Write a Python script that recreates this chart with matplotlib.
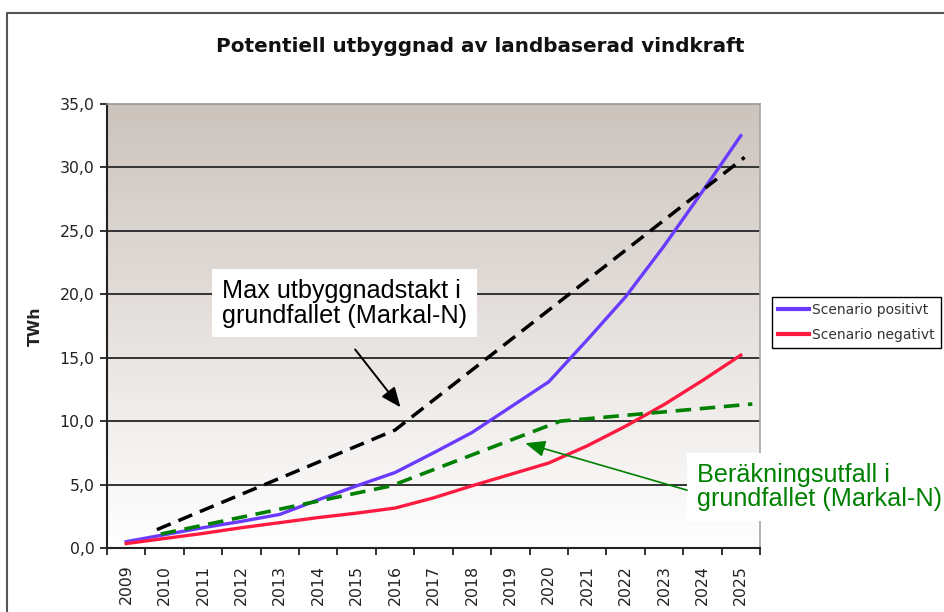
import matplotlib
matplotlib.use("Agg")
import matplotlib.pyplot as plt
from matplotlib.lines import Line2D
from matplotlib.ticker import FuncFormatter
import numpy as np

# ========================================================================
# data
years = [2009, 2010, 2011, 2012, 2013, 2014, 2015, 2016, 2017,
         2018, 2019, 2020, 2021, 2022, 2023, 2024, 2025]
positiv = [0.5, 1.05, 1.6, 2.1, 2.65, 3.8, 4.9, 5.95, 7.5,
           9.1, 11.1, 13.1, 16.4, 19.8, 23.8, 28.1, 32.5]
negativ = [0.35, 0.75, 1.15, 1.6, 2.0, 2.4, 2.75, 3.15, 3.95,
           4.9, 5.8, 6.7, 8.05, 9.6, 11.3, 13.2, 15.2]

# hand drawn dashed lines (x in years, not on the categories)
max_x = [2009.8, 2016.0, 2025.1]
max_y = [1.45, 9.3, 30.8]
ber_x = [2009.9, 2015.9, 2020.3, 2025.3]
ber_y = [1.1, 4.9, 10.0, 11.35]

yticks = [0, 5, 10, 15, 20, 25, 30, 35]
title = "Potentiell utbyggnad av landbaserad vindkraft"
labels = ["Scenario positivt", "Scenario negativt"]
txt_max = "Max utbyggnadstakt i\ngrundfallet (Markal-N)"
txt_ber = "Beräkningsutfall i\ngrundfallet (Markal-N)"

# ========================================================================
W, H = 945, 612
fig = plt.figure(figsize=(W / 100, H / 100), dpi=100)
ax = fig.add_axes([107 / W, 1 - 548 / H, (760 - 107) / W, (548 - 104) / H])

# background gradient inside plot area
top = np.array([0.80, 0.765, 0.74])
t = np.linspace(0, 1, 256)[:, None]
grad = top[None, :] * (1 - t) + np.ones(3)[None, :] * t
grad = np.repeat(grad[:, None, :], 2, axis=1)
ax.imshow(grad, extent=(0, 1, 0, 1), transform=ax.transAxes,
          aspect="auto", zorder=0, interpolation="bilinear")

for v in yticks[1:-1]:
    ax.axhline(v, color="#333333", lw=1.4, zorder=1)

ax.plot(years, positiv, color="#6a3bff", lw=2.4, zorder=3, solid_joinstyle="round")
ax.plot(years, negativ, color="#ff1a40", lw=2.4, zorder=3, solid_joinstyle="round")
ax.plot(max_x, max_y, color="black", lw=2.5, dashes=(4.3, 2.4), zorder=4)
ax.plot(ber_x, ber_y, color="#008000", lw=2.6, dashes=(4.3, 2.4), zorder=4)

ax.set_xlim(years[0] - 0.5, years[-1] + 0.5)
ax.set_ylim(yticks[0], yticks[-1])

# axes look
for s in ["left", "bottom"]:
    ax.spines[s].set_color("#222222")
    ax.spines[s].set_linewidth(1.5)
ax.spines["top"].set_color("#9a948f")
ax.spines["right"].set_color("#aaa4a0")
ax.spines["top"].set_linewidth(1.2)
ax.spines["right"].set_linewidth(1.2)

ax.set_yticks(yticks)
ax.yaxis.set_major_formatter(FuncFormatter(lambda v, p: f"{v:.1f}".replace(".", ",")))
ax.tick_params(axis="y", direction="out", length=5, width=1.3, color="#222222",
               labelsize=11.3, labelcolor="#222222", pad=4)
ax.set_xticks(years)
ax.set_xticklabels([str(y) for y in years], rotation=90)
ax.set_xticks([y - 0.5 for y in years] + [years[-1] + 0.5], minor=True)
ax.tick_params(axis="x", which="major", length=0, labelsize=11.3,
               labelcolor="#222222", pad=12)
ax.tick_params(axis="x", which="minor", direction="out", length=5, width=1.3,
               color="#222222")

ax.set_ylabel("TWh", fontsize=11.3, fontweight="bold", color="#222222", labelpad=12)

fig.text(480 / W, 1 - 47 / H, title, ha="center", va="center",
         fontsize=14.4, fontweight="bold", color="#111111")

# legend
h = [Line2D([], [], color="#6a3bff", lw=3), Line2D([], [], color="#ff1a40", lw=3)]
leg = fig.legend(h, labels, loc="upper left", bbox_to_anchor=(772 / W, 1 - 297 / H),
                 frameon=True, fancybox=False, edgecolor="black", framealpha=1,
                 fontsize=10, handlelength=2.2, handletextpad=0.25, borderpad=0.45,
                 labelspacing=0.75, borderaxespad=0)
leg.get_frame().set_linewidth(1.0)
for tx in leg.get_texts():
    tx.set_color("#333333")

# annotations
ax.text(2011.49, 19.3, txt_max, ha="left", va="center", fontsize=18.2,
        family="Liberation Sans", color="black", linespacing=1.05, zorder=6,
        bbox=dict(facecolor="white", edgecolor="none", pad=7))
ax.annotate("", xy=(2016.14, 11.09), xytext=(2014.96, 15.65),
            arrowprops=dict(arrowstyle="-|>,head_length=0.6,head_width=0.25",
                            mutation_scale=20, lw=1.4, color="black",
                            shrinkA=0, shrinkB=0), zorder=6)

ax.text(2023.86, 4.81, txt_ber, ha="left", va="center", fontsize=18.2,
        family="Liberation Sans", color="#008000", linespacing=1.05, zorder=6,
        clip_on=False,
        bbox=dict(facecolor="white", edgecolor="none", pad=7))
ax.annotate("", xy=(2019.39, 8.26), xytext=(2023.6, 4.56),
            arrowprops=dict(arrowstyle="-|>,head_length=0.6,head_width=0.25",
                            mutation_scale=20, lw=1.2, color="#008000",
                            shrinkA=0, shrinkB=0), zorder=6, annotation_clip=False)

# outer chart border (cut by the picture edge)
fig.add_artist(Line2D([7 / W, 7 / W, 1], [0, 1 - 13 / H, 1 - 13 / H],
                      transform=fig.transFigure, color="#555555", lw=1.5))

fig.savefig("out.png", dpi=100)
